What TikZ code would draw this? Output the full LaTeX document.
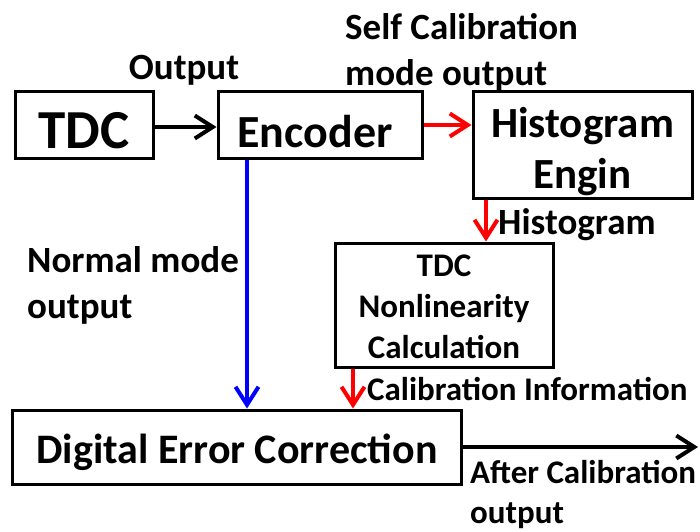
\documentclass[tikz,border=0pt]{standalone}
\usepackage{fontspec}
\setmainfont{Carlito}
\usetikzlibrary{arrows.meta}
\definecolor{pred}{RGB}{255,0,0}
\definecolor{pblue}{RGB}{0,0,255}
\tikzset{
  blk/.style={draw=black, line width=3pt, inner sep=0pt, align=center, font=\bfseries},
  conn/.style={draw, line width=4pt, -{Straight Barb[length=18pt,width=23pt,line width=4pt]}},
  lbl/.style={inner sep=0pt, align=left, font=\bfseries},
  big/.style={font=\bfseries\fontsize{37}{46}\selectfont},
  small/.style={font=\bfseries\fontsize{33}{40}\selectfont}
}
\begin{document}
\begin{tikzpicture}[x=1pt,y=-1pt]
\useasboundingbox (0,0) rectangle (700,531);
% boxes
\node[blk, minimum width=138pt, minimum height=67pt, text height=46pt, text depth=0pt, font=\bfseries\fontsize{55}{60}\selectfont] (tdc) at (84,125) {TDC};
\node[blk, minimum width=204pt, minimum height=67pt, text height=44pt, text depth=0pt, font=\bfseries\fontsize{46}{52}\selectfont] (enc) at (320,125) {\hspace*{-10pt}Encoder};
\node[blk, minimum width=219pt, minimum height=107pt, text height=90pt, text depth=3pt, font=\bfseries\fontsize{43}{51}\selectfont] (hist) at (582.5,144.5) {Histogram\\Engin};
\node[blk, minimum width=218pt, minimum height=124pt, text height=110pt, text depth=4pt, font=\bfseries\fontsize{33}{41}\selectfont] (nl) at (444,305) {TDC\\Nonlinearity\\Calculation};
\node[blk, minimum width=449pt, minimum height=74pt, text height=32pt, text depth=0pt, font=\bfseries\fontsize{42}{48}\selectfont] (dec) at (237,447) {Digital Error Correction};
\coordinate (out) at (698,447);
% connectors
\path[conn] (tdc.east |- 0,127) -- (enc.west |- 0,127);
\path[conn, draw=pred] (enc.east |- 0,125) -- (hist.west |- 0,125);
\path[conn, draw=pred] (hist.south -| 486,0) -- (nl.north -| 486,0);
\path[conn, draw=pblue] (enc.south -| 247,0) -- (dec.north -| 247,0);
\path[conn, draw=pred] (nl.south -| 353,0) -- (dec.north -| 353,0);
\path[conn] (dec.east) -- (out);
% labels
\node[lbl, big, anchor=center] (l1) at (184,70) {Output};
\node[lbl, big, anchor=west] (l2) at (345,52) {Self Calibration\\mode output};
\node[lbl, big, anchor=west] (l3) at (498,225) {Histogram};
\node[lbl, big, anchor=west] (l4) at (27,285) {Normal mode\\output};
\node[lbl, small, anchor=west] (l5) at (367,389) {Calibration Information};
\node[lbl, small, anchor=west] (l6) at (470,494) {After Calibration\\output};
\end{tikzpicture}
\end{document}
